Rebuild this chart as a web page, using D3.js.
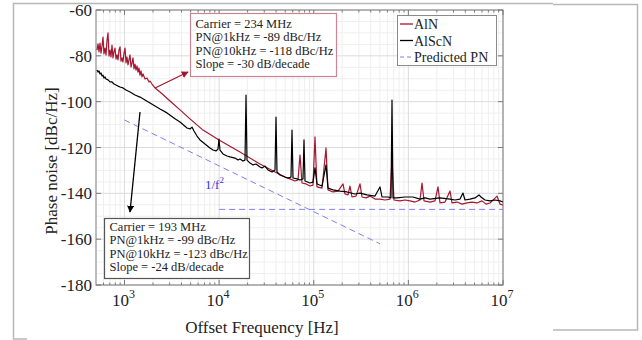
<!DOCTYPE html>
<html><head><meta charset="utf-8">
<script src="https://cdn.jsdelivr.net/npm/d3@7"></script>
<style>
html,body{margin:0;padding:0;background:#fff;}
svg{display:block;}
text{font-family:"Liberation Serif","DejaVu Serif",serif;}
</style></head>
<body>
<svg id="chart" width="642" height="340"></svg>
<script>
// ---- Data ----
const alnFreq = [512,525,538,551,565,579,593,607,623,638,654,670,686,703,720,738,756,775,794,814,834,854,875,897,919,941,964,988,1013,1038,1063,1089,1116,1144,1172,1201,1230,1260,1292,1323,1356,1389,1423,1459,1495,1531,1569,1648,1730,1816,1861,1953,2102,2373,3027,3862,4924,6755,9972,16620,27040,38960,49700,56120,63390,68170,71580,75140,82840,91290,98200,103100,108200,122300,134800,141500,159800,180500,203800,214000,230100,241600,253700,279600,308200,323600,356700,393000,444000,501400,566200,639500,671400,704900,815600,921300,1.041e6,1.175e6,1.327e6,1.394e6,1.463e6,1.693e6,1.912e6,2.056e6,2.159e6,2.439e6,2.754e6,2.892e6,3.266e6,3.687e6,4.165e6,4.703e6,5.311e6,6.0e6,6.611e6,7.29e6,8.036e6,8.644e6,9.296e6,1e7];
const alnPN = [-77.5,-74.8,-78.3,-74.4,-78.8,-75.7,-71.8,-79.2,-76.6,-79.6,-73.1,-70.0,-80.1,-77.5,-80.5,-75.3,-80.9,-78.3,-76.6,-81.4,-79.6,-81.8,-77.5,-76.1,-82.3,-80.9,-82.7,-78.8,-76.6,-83.1,-80.5,-84.0,-81.8,-79.6,-84.9,-83.1,-80.9,-85.7,-83.6,-86.2,-84.4,-87.1,-85.3,-88.4,-86.6,-89.2,-87.9,-90.1,-89.7,-91.4,-91.0,-92.3,-94.0,-95.8,-99.7,-103.6,-107.5,-112.4,-116.7,-122.0,-127.2,-130.7,-132.9,-133.7,-134.6,-134.2,-123.3,-135.5,-135.9,-136.8,-136.4,-115.4,-137.2,-137.7,-120.2,-138.5,-139.4,-139.0,-135.9,-140.3,-140.7,-136.8,-141.6,-141.2,-135.9,-141.6,-142.0,-141.2,-142.5,-142.5,-142.9,-142.5,-125.5,-142.9,-143.3,-142.9,-143.3,-143.8,-142.9,-135.5,-143.3,-143.8,-143.3,-137.2,-144.2,-143.8,-139.0,-144.2,-143.8,-144.7,-144.2,-143.8,-144.2,-143.3,-144.7,-144.2,-142.5,-141.2,-144.7,-145.1];

const alscnFreq = [512,525,538,551,565,579,593,607,623,638,670,703,738,775,814,854,897,964,1038,1144,1292,1459,1648,1861,2102,2373,2814,3418,3862,4579,4924,5171,5428,5840,6281,7094,8010,8618,9271,9732,9972,10220,10990,12120,13030,14720,15840,16620,17880,18770,19240,19710,21210,22810,24530,27040,28400,30530,32860,36220,38960,39920,40900,43990,49700,53450,57510,58920,60370,66540,71580,77000,78890,80840,91290,98200,103100,108200,122300,134800,141500,159800,189500,224600,272900,308200,365500,444000,501400,526400,609000,655200,671400,688000,758300,921300,1.119e6,1.327e6,1.499e6,1.693e6,2.159e6,2.754e6,3.111e6,3.512e6,3.778e6,3.967e6,4.481e6,5.059e6,5.577e6,5.855e6,6.452e6,7.29e6,8.23e6,9.296e6,1e7];
const alscnPN = [-86.2,-87.1,-86.6,-87.9,-87.5,-88.8,-88.4,-89.7,-89.2,-90.1,-90.5,-91.4,-91.4,-92.3,-92.7,-93.2,-93.6,-94.0,-94.9,-95.8,-97.1,-98.0,-99.3,-100.6,-101.9,-103.2,-104.9,-107.5,-108.9,-111.5,-111.9,-111.1,-112.8,-115.0,-116.7,-118.5,-120.2,-121.1,-121.5,-120.7,-116.3,-121.1,-122.8,-123.7,-124.1,-124.6,-125.5,-125.0,-125.9,-125.5,-97.1,-125.5,-126.8,-127.6,-127.2,-128.5,-128.9,-128.1,-129.8,-130.7,-129.8,-106.7,-130.7,-132.0,-132.9,-133.3,-132.9,-112.4,-133.3,-133.7,-134.2,-133.7,-116.7,-134.6,-135.5,-135.1,-128.9,-135.9,-136.8,-127.6,-137.7,-138.5,-139.0,-139.4,-140.3,-139.9,-140.7,-141.2,-137.2,-141.6,-141.6,-142.0,-99.3,-142.0,-142.0,-141.6,-141.6,-142.5,-142.0,-142.5,-142.0,-142.5,-142.9,-142.5,-139.9,-142.9,-142.5,-142.0,-140.7,-141.6,-142.9,-143.3,-142.9,-143.3,-143.8];

// predicted PN: 1/f^2 segment and flat floor
const predSlopeFreq = [1000, 500000];
const predSlopePN = [-108, -162];
const predFloorFreq = [10000, 1e7];
const predFloorPN = [-147, -147];

const xTickVals = [1e3, 1e4, 1e5, 1e6, 1e7];
const xTickExp = ["3","4","5","6","7"];
const yTickVals = [-180,-160,-140,-120,-100,-80,-60];

const seriesNames = ["AlN","AlScN","Predicted PN"];
const alnNote = ["Carrier = 234 MHz","PN@1kHz = -89 dBc/Hz","PN@10kHz = -118 dBc/Hz","Slope = -30 dB/decade"];
const alscnNote = ["Carrier = 193 MHz","PN@1kHz = -99 dBc/Hz","PN@10kHz = -123 dBc/Hz","Slope = -24 dB/decade"];

// ---- Layout ----
const L = 96, R = 503, T = 10, B = 285;
const RED = "#a5172f", BLUE = "#7f7ff0";
const svg = d3.select("#chart");

// outer frame fragments
const frame = svg.append("g").attr("stroke","#b8b8b8").attr("stroke-width",1.5).attr("fill","none");
frame.append("path").attr("d","M27,339 H13.5 V3.5 H553");
frame.append("path").attr("d","M553,4.5 H637.5 V330 H553");

const x = d3.scaleLog().domain([500, 1e7]).range([L, R]);
const y = d3.scaleLinear().domain([-180, -60]).range([B, T]);

// grid
const minorX = [];
for (let e = 2; e <= 6; e++) for (let m = 2; m <= 9; m++) { const v = m*Math.pow(10,e); if (v > 500 && v < 1e7) minorX.push(v); }
const minorY = d3.range(-180, -59, 5).filter(v => v % 20 !== 0);
const g = svg.append("g");
g.selectAll(".mx").data(minorX).join("line").attr("x1",d=>x(d)).attr("x2",d=>x(d)).attr("y1",T).attr("y2",B).attr("stroke","#efefef").attr("stroke-width",1);
g.selectAll(".my").data(minorY).join("line").attr("x1",L).attr("x2",R).attr("y1",d=>y(d)).attr("y2",d=>y(d)).attr("stroke","#efefef").attr("stroke-width",1);
g.selectAll(".Mx").data(xTickVals).join("line").attr("x1",d=>x(d)).attr("x2",d=>x(d)).attr("y1",T).attr("y2",B).attr("stroke","#dcdcdc").attr("stroke-width",1);
g.selectAll(".My").data(yTickVals).join("line").attr("x1",L).attr("x2",R).attr("y1",d=>y(d)).attr("y2",d=>y(d)).attr("stroke","#dcdcdc").attr("stroke-width",1);

// axes (ticks inside, box)
const ax = svg.append("g").attr("stroke","#7a7a7a").attr("stroke-width",1);
ax.append("rect").attr("x",L).attr("y",T).attr("width",R-L).attr("height",B-T).attr("fill","none");
xTickVals.forEach(v => { ax.append("line").attr("x1",x(v)).attr("x2",x(v)).attr("y1",B).attr("y2",B-5); ax.append("line").attr("x1",x(v)).attr("x2",x(v)).attr("y1",T).attr("y2",T+5); });
minorX.forEach(v => { ax.append("line").attr("x1",x(v)).attr("x2",x(v)).attr("y1",B).attr("y2",B-2.5); ax.append("line").attr("x1",x(v)).attr("x2",x(v)).attr("y1",T).attr("y2",T+2.5); });
yTickVals.forEach(v => { ax.append("line").attr("x1",L).attr("x2",L+5).attr("y1",y(v)).attr("y2",y(v)); ax.append("line").attr("x1",R).attr("x2",R-5).attr("y1",y(v)).attr("y2",y(v)); });

// tick labels
svg.selectAll(".yl").data(yTickVals).join("text").attr("x",L-4).attr("y",d=>y(d)+6).attr("text-anchor","end").attr("font-size",17).attr("fill","#222").text(d=>d);
xTickVals.forEach((v,i) => {
  const t = svg.append("text").attr("x",x(v)-1).attr("y",306).attr("text-anchor","middle").attr("font-size",17).attr("fill","#222");
  t.append("tspan").text("10");
  t.append("tspan").attr("dy",-8).attr("font-size",12).text(xTickExp[i]);
});
svg.append("text").attr("x",262).attr("y",333).attr("text-anchor","middle").attr("font-size",17).attr("fill","#222").text("Offset Frequency [Hz]");
svg.append("text").attr("transform","translate(57,161) rotate(-90)").attr("text-anchor","middle").attr("font-size",17).attr("fill","#222").text("Phase noise [dBc/Hz]");

// clip
svg.append("clipPath").attr("id","clip").append("rect").attr("x",L).attr("y",T).attr("width",R-L).attr("height",B-T);
const plot = svg.append("g").attr("clip-path","url(#clip)");
const line = d3.line().x(d=>x(d[0])).y(d=>y(d[1]));

plot.append("path").datum(predSlopeFreq.map((f,i)=>[f,predSlopePN[i]])).attr("d",line).attr("fill","none").attr("stroke",BLUE).attr("stroke-width",1).attr("stroke-dasharray","6,4");
plot.append("path").datum(predFloorFreq.map((f,i)=>[f,predFloorPN[i]])).attr("d",line).attr("fill","none").attr("stroke",BLUE).attr("stroke-width",1).attr("stroke-dasharray","6,4");
plot.append("path").datum(alnFreq.map((f,i)=>[f,alnPN[i]])).attr("d",line).attr("fill","none").attr("stroke",RED).attr("stroke-width",1.2).attr("stroke-linejoin","round");
plot.append("path").datum(alscnFreq.map((f,i)=>[f,alscnPN[i]])).attr("d",line).attr("fill","none").attr("stroke","#000").attr("stroke-width",1.2).attr("stroke-linejoin","round");

// 1/f^2 label
const lf = svg.append("text").attr("x",205).attr("y",189).attr("font-size",13).attr("fill","#3535d5");
lf.append("tspan").text("1/f");
lf.append("tspan").attr("dy",-6).attr("font-size",9).text("2");

// legend
const lg = svg.append("g");
lg.append("rect").attr("x",397.5).attr("y",15.5).attr("width",99).attr("height",50).attr("fill","#fff").attr("stroke","#8a8a8a");
const lcol = [RED,"#000",BLUE];
seriesNames.forEach((n,i)=>{
  const yy = 24 + i*16.5;
  lg.append("line").attr("x1",400).attr("x2",413).attr("y1",yy).attr("y2",yy).attr("stroke",lcol[i]).attr("stroke-width",i==2?1:1.3).attr("stroke-dasharray",i==2?"4,3":null);
  lg.append("text").attr("x",414).attr("y",yy+5).attr("font-size",14).attr("fill","#222").text(n);
});

// annotation boxes
function note(x0,y0,w,h,stroke,lines,base){
  svg.append("rect").attr("x",x0).attr("y",y0).attr("width",w).attr("height",h).attr("fill","#fff").attr("stroke",stroke).attr("stroke-width",1.2);
  lines.forEach((s,i)=>svg.append("text").attr("x",x0+5).attr("y",base+i*13.5).attr("font-size",12.5).attr("fill","#222").text(s));
}
note(190.5,13.5,146,63,"#c98692",alnNote,27.5);
note(104.5,218.5,145,60,"#555",alscnNote,230.5);

// arrows
const defs = svg.append("defs");
function marker(id,c){ defs.append("marker").attr("id",id).attr("viewBox","0 0 10 10").attr("refX",9).attr("refY",5).attr("markerWidth",7).attr("markerHeight",7).attr("orient","auto").attr("markerUnits","userSpaceOnUse").append("path").attr("d","M0,0 L10,5 L0,10 z").attr("fill",c); }
marker("ar",RED); marker("ab","#000");
svg.append("line").attr("x1",155).attr("y1",88).attr("x2",188).attr("y2",72).attr("stroke",RED).attr("stroke-width",1.3).attr("marker-end","url(#ar)");
svg.append("line").attr("x1",140).attr("y1",112).attr("x2",130).attr("y2",212).attr("stroke","#000").attr("stroke-width",1.3).attr("marker-end","url(#ab)");
</script>
</body></html>
